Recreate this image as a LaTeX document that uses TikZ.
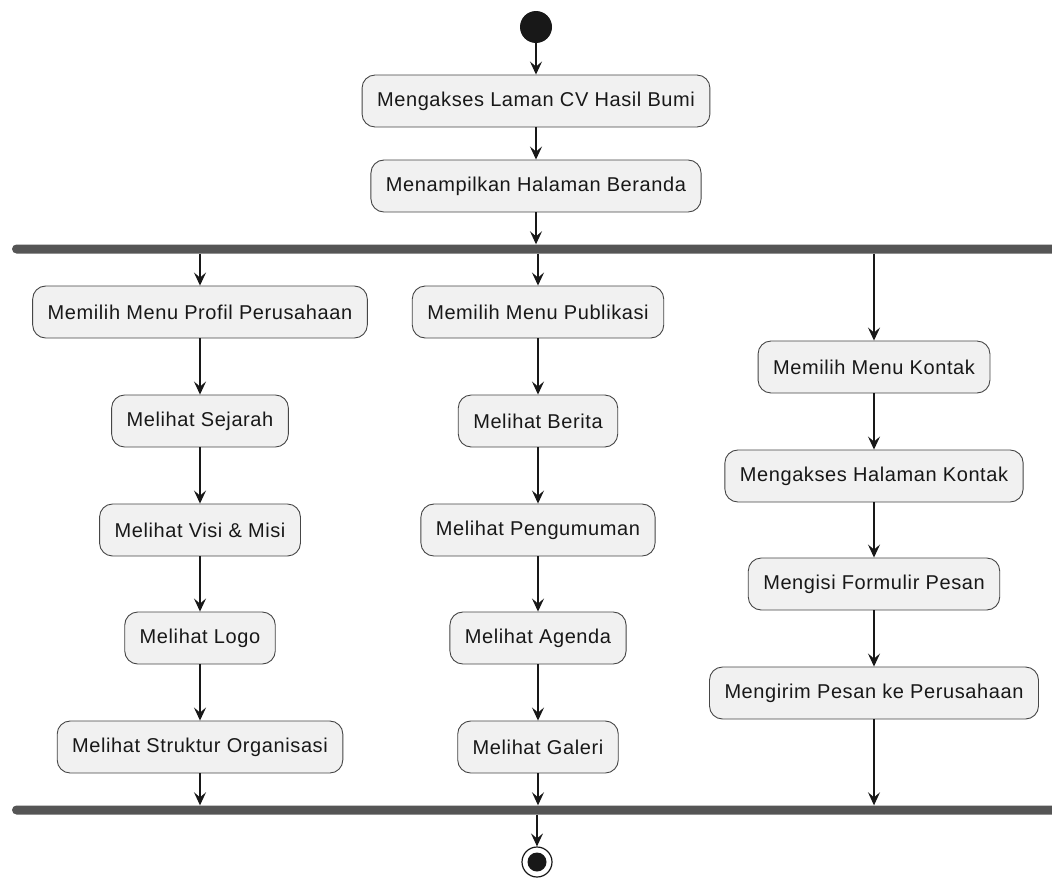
\documentclass[tikz,border=0pt]{standalone}
\usepackage{fontspec}
\setmainfont{Liberation Sans}[LetterSpace=3]
\usetikzlibrary{arrows.meta}
\definecolor{boxfill}{HTML}{F1F1F1}
\definecolor{ink}{HTML}{181818}
\definecolor{barcol}{HTML}{555555}
\tikzset{
  act/.style={draw=ink!80, line width=0.9pt, fill=boxfill, rounded corners=13pt,
    minimum height=52pt, inner xsep=15pt, font=\fontsize{20}{23}\selectfont, text=ink},
  syncbar/.style={fill=barcol, rounded corners=4.5pt, minimum height=9pt, inner sep=0pt},
  arr/.style={draw=ink, line width=1.2pt, -{Stealth[length=13pt,width=12pt,inset=5pt]}}
}
\begin{document}
\begin{tikzpicture}[x=1pt,y=-1pt]
\useasboundingbox (0,0) rectangle (1052,878);
\fill[white] (0,0) rectangle (1052,878);
% start
\node[circle, fill=ink, minimum size=32pt, inner sep=0pt] (start) at (536,27) {};
\node[act] (b1) at (536,101) {Mengakses Laman CV Hasil Bumi};
\node[act] (b2) at (536,186) {Menampilkan Halaman Beranda};
\node[syncbar, minimum width=1046pt] (fork) at (535,249) {};
% column 1
\node[act] (c1a) at (200,312) {Memilih Menu Profil Perusahaan};
\node[act] (c1b) at (200,421) {Melihat Sejarah};
\node[act] (c1c) at (200,530) {Melihat Visi \& Misi};
\node[act] (c1d) at (200,638) {Melihat Logo};
\node[act] (c1e) at (200,747) {Melihat Struktur Organisasi};
% column 2
\node[act] (c2a) at (538,312) {Memilih Menu Publikasi};
\node[act] (c2b) at (538,421) {Melihat Berita};
\node[act] (c2c) at (538,530) {Melihat Pengumuman};
\node[act] (c2d) at (538,638) {Melihat Agenda};
\node[act] (c2e) at (538,747) {Melihat Galeri};
% column 3
\node[act] (c3a) at (874,367) {Memilih Menu Kontak};
\node[act] (c3b) at (874,476) {Mengakses Halaman Kontak};
\node[act] (c3c) at (874,584) {Mengisi Formulir Pesan};
\node[act] (c3d) at (874,693) {Mengirim Pesan ke Perusahaan};
\node[syncbar, minimum width=1046pt] (join) at (535,810) {};
% end
\node[circle, draw=ink, line width=1.2pt, fill=white, minimum size=30pt, inner sep=0pt] (stop) at (537,862) {};
\node[circle, fill=ink, minimum size=19pt, inner sep=0pt] (stopin) at (stop.center) {};
% connectors
\draw[arr] (start) -- (b1);
\draw[arr] (b1) -- (b2);
\draw[arr] (b2) -- (b2 |- fork.north);
\draw[arr] (fork.south -| c1a) -- (c1a);
\draw[arr] (c1a) -- (c1b);
\draw[arr] (c1b) -- (c1c);
\draw[arr] (c1c) -- (c1d);
\draw[arr] (c1d) -- (c1e);
\draw[arr] (c1e) -- (c1e |- join.north);
\draw[arr] (fork.south -| c2a) -- (c2a);
\draw[arr] (c2a) -- (c2b);
\draw[arr] (c2b) -- (c2c);
\draw[arr] (c2c) -- (c2d);
\draw[arr] (c2d) -- (c2e);
\draw[arr] (c2e) -- (c2e |- join.north);
\draw[arr] (fork.south -| c3a) -- (c3a);
\draw[arr] (c3a) -- (c3b);
\draw[arr] (c3b) -- (c3c);
\draw[arr] (c3c) -- (c3d);
\draw[arr] (c3d) -- (c3d |- join.north);
\draw[arr] (join.south -| stop) -- (stop);
\end{tikzpicture}
\end{document}
